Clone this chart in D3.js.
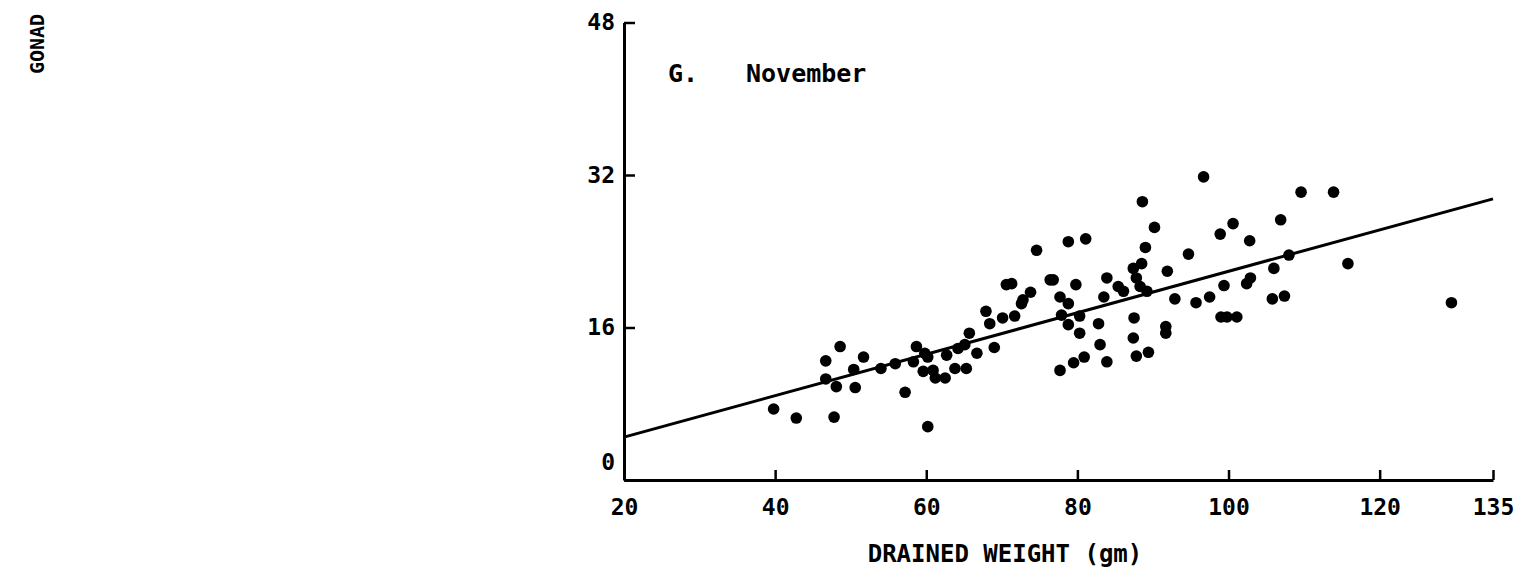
<!DOCTYPE html>
<html>
<head>
<meta charset="utf-8">
<script src="https://cdn.jsdelivr.net/npm/d3@7"></script>
<style>
  body { margin: 0; background: #fff; }
  svg text { font-family: "DejaVu Sans Mono", monospace; fill: #000; font-weight: bold; }
</style>
</head>
<body>
<svg id="chart"></svg>
<script>
// November panel: gonad weight vs drained weight
const weights = [39.8, 42.8, 47.8, 46.7, 48.6, 46.7, 48.1, 50.4, 50.6, 51.7,
  54.0, 55.9, 57.2, 60.2, 58.7, 58.3, 59.8, 60.2, 59.6, 60.9,
  61.2, 62.5, 62.7, 63.8, 64.2, 65.1, 65.3, 65.7, 66.7, 69.0,
  68.4, 67.9, 70.1, 71.7, 70.6, 71.3, 72.6, 72.8, 73.8, 74.6,
  76.4, 76.8, 77.7, 78.8, 78.8, 81.1, 79.8, 77.9, 78.8, 80.3,
  80.3, 77.7, 79.5, 80.9, 82.8, 83.0, 83.9, 83.5, 83.9, 85.4,
  86.1, 87.4, 88.5, 87.8, 88.3, 89.2, 89.0, 90.2, 88.6, 87.5,
  87.4, 87.8, 89.4, 91.7, 91.7, 91.9, 92.9, 94.7, 95.7, 96.7,
  98.9, 100.6, 102.8, 109.6, 113.9, 106.9, 108.0, 106.0, 115.8, 102.9,
  102.4, 99.4, 97.5, 99.0, 99.8, 101.1, 105.8, 107.4, 129.5];
const gonad = [7.45, 6.5, 6.6, 12.5, 14.0, 10.6, 9.8, 11.6, 9.7, 12.9,
  11.7, 12.2, 9.2, 5.6, 14.0, 12.4, 13.3, 12.9, 11.4, 11.5,
  10.7, 10.7, 13.1, 11.7, 13.8, 14.2, 11.7, 15.4, 13.3, 13.9,
  16.4, 17.7, 17.0, 17.2, 20.5, 20.6, 18.5, 18.9, 19.7, 24.1,
  21.0, 21.0, 19.2, 18.5, 25.0, 25.3, 20.5, 17.3, 16.3, 17.2,
  15.4, 11.5, 12.3, 12.9, 16.4, 14.2, 12.4, 19.2, 21.2, 20.3,
  19.8, 22.2, 22.7, 21.2, 20.3, 19.8, 24.4, 26.5, 29.2, 17.0,
  14.9, 13.0, 13.4, 16.1, 15.4, 21.9, 19.0, 23.7, 18.6, 31.8,
  25.8, 26.9, 25.1, 30.2, 30.2, 27.3, 23.6, 22.2, 22.7, 21.2,
  20.6, 20.4, 19.2, 17.1, 17.1, 17.1, 19.0, 19.3, 18.6];

// fitted regression line end points
const fitX = [20, 135];
const fitY = [4.5, 29.5];

const xTicks = [20, 40, 60, 80, 100, 120, 135];
const yTicks = [0, 16, 32, 48];

const width = 1517, height = 579;
const svg = d3.select('#chart')
  .attr('width', width)
  .attr('height', height);

const x = d3.scaleLinear().domain([20, 135]).range([624, 1493]);
const y = d3.scaleLinear().domain([0, 48]).range([480, 22.5]);

// axes, ticks pointing inward
const xAxis = svg.append('g')
  .attr('transform', `translate(0,${y(0)})`)
  .call(d3.axisBottom(x).tickValues(xTicks).tickSize(-10).tickPadding(19).tickSizeOuter(0));
const yAxis = svg.append('g')
  .attr('transform', `translate(${x(20)},0)`)
  .call(d3.axisLeft(y).tickValues(yTicks).tickSize(-11).tickPadding(9).tickSizeOuter(0));

[xAxis, yAxis].forEach(g => {
  g.select('.domain').attr('stroke', '#000').attr('stroke-width', 3);
  g.selectAll('.tick line').attr('stroke', '#000').attr('stroke-width', 2.5);
  g.selectAll('.tick text').style('font-size', '23px');
});
// the zero label sits a little above the axis
yAxis.selectAll('.tick text').filter(d => d === 0).attr('dy', '-0.45em');

// regression line
svg.append('line')
  .attr('x1', x(fitX[0])).attr('y1', y(fitY[0]))
  .attr('x2', x(fitX[1])).attr('y2', y(fitY[1]))
  .attr('stroke', '#000')
  .attr('stroke-width', 3);

// points
svg.selectAll('circle')
  .data(weights.map((w, i) => ({ w: w, g: gonad[i] })))
  .enter()
  .append('circle')
  .attr('cx', d => x(d.w))
  .attr('cy', d => y(d.g))
  .attr('r', 5.8)
  .attr('fill', '#000');

// labels
svg.append('text')
  .attr('x', 668).attr('y', 82)
  .style('font-size', '25px')
  .text('G.');
svg.append('text')
  .attr('x', 746).attr('y', 82)
  .style('font-size', '25px')
  .text('November');

svg.append('text')
  .attr('x', 1005).attr('y', 562)
  .attr('text-anchor', 'middle')
  .style('font-size', '24px')
  .text('DRAINED WEIGHT (gm)');

svg.append('text')
  .attr('transform', 'translate(44,44) rotate(-90)')
  .attr('text-anchor', 'middle')
  .style('font-size', '20px')
  .text('GONAD');
</script>
</body>
</html>
